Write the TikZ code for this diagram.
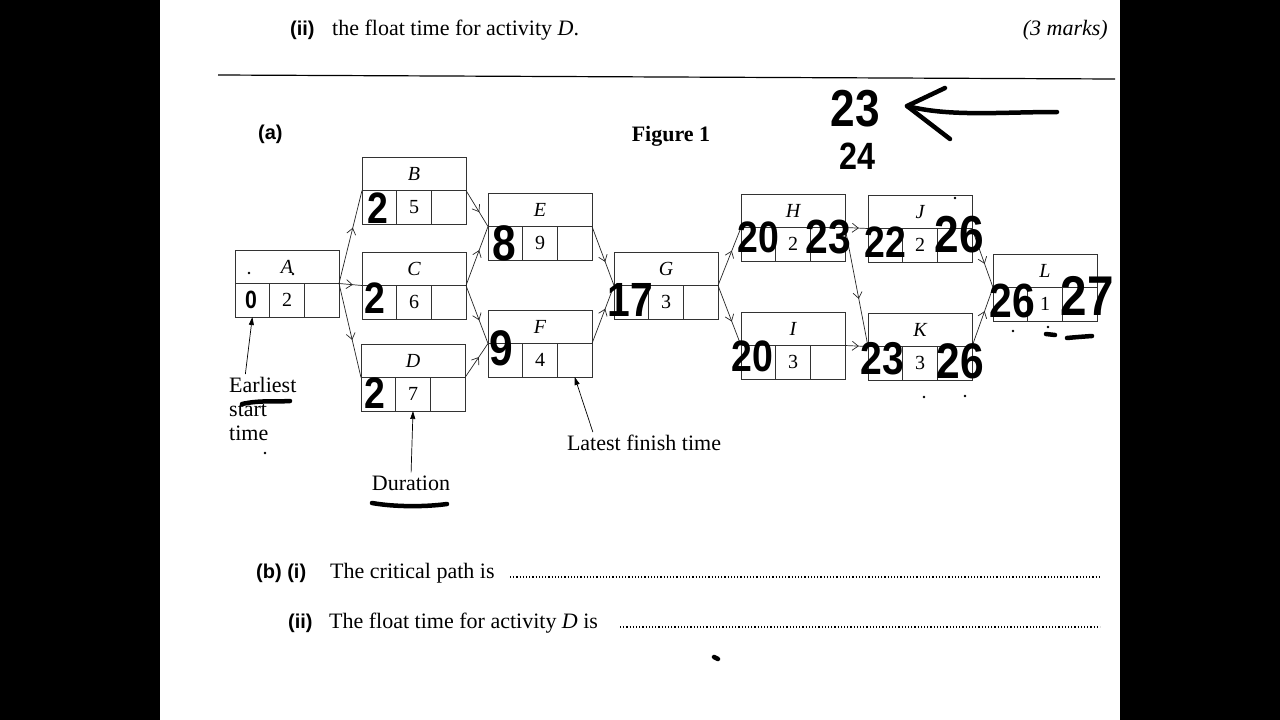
\documentclass[tikz,border=0pt]{standalone}
\usepackage{fontspec}
\setmainfont{Liberation Serif}
\newfontfamily\labelfont{Liberation Sans}
\newfontfamily\handfont{Liberation Sans}[FakeStretch=0.85]
\usetikzlibrary{arrows.meta, positioning, calc, decorations.markings}

% one activity box: name, x, y (top left), letter, duration
\newcommand\activity[5]{%
  \node[namecell, anchor=north west] (#1) at (#2,#3) {#4};
  \node[timecell, anchor=north west] (#1-es) at (#1.south west) {};
  \node[timecell, right=0pt of #1-es] (#1-du) {#5};
  \node[timecell, right=0pt of #1-du] (#1-lf) {};
}

\tikzset{
  namecell/.style={draw=black!80, line width=0.8pt, minimum width=104pt, minimum height=33.5pt, inner sep=0pt, outer sep=0pt, font=\fontsize{20}{20}\selectfont\itshape},
  timecell/.style={draw=black!80, line width=0.8pt, minimum width=34.67pt, minimum height=33.5pt, inner sep=0pt, outer sep=0pt, font=\fontsize{20}{20}\selectfont},
  link/.style={line width=0.7pt, black!85, decoration={markings, mark=at position 0.6 with {\arrow{Straight Barb[length=6pt,width=9pt]}}}, postaction={decorate}},
  pointer/.style={line width=0.7pt, shorten <=3pt, -{Triangle[length=8pt,width=5pt]}},
  hand/.style={inner sep=0pt, font=\handfont\bfseries\fontsize{44}{44}\selectfont},
  scrawl/.style={line width=4.5pt, line cap=round, line join=round},
  caption/.style={inner sep=0pt, font=\fontsize{22}{24}\selectfont},
  tag/.style={inner sep=0pt, font=\labelfont\bfseries\fontsize{20}{20}\selectfont},
  leader/.style={line width=1.4pt, dash pattern=on 1.2pt off 2pt},
}

\begin{document}
\begin{tikzpicture}[x=1pt, y=-1pt]

    % page
    \fill[black] (0,0) rectangle (1280,720);
    \fill[white] (160,0) rectangle (1120,720);

    % question header
    \node[tag, anchor=base west] (q2) at (290,35) {(ii)};
    \node[caption, anchor=base west] (q2text) at (332,35) {the float time for activity \textit{D}.};
    \node[caption, anchor=base east] (marks) at (1108,35) {\textit{(3 marks)}};
    \draw[line width=1.2pt] (218,75) -- (1115,79);

    \node[tag, anchor=base west] (parta) at (258,139) {(a)};
    \node[caption, anchor=base, font=\fontsize{22}{24}\selectfont\bfseries] (fig) at (671,141) {Figure 1};

    % activity boxes
    \activity{A}{235}{250}{A}{2}
    \activity{B}{362}{157}{B}{5}
    \activity{C}{362}{252}{C}{6}
    \activity{D}{361}{344}{D}{7}
    \activity{E}{488}{193}{E}{9}
    \activity{F}{488}{310}{F}{4}
    \activity{G}{614}{252}{G}{3}
    \activity{H}{741}{194}{H}{2}
    \activity{I}{741}{312}{I}{3}
    \activity{J}{868}{195}{J}{2}
    \activity{K}{868}{313}{K}{3}
    \activity{L}{993}{254}{L}{1}

    % precedence links
    \foreach \src/\dst in {A/B, A/C, A/D, B/E, C/E, C/F, D/F, E/G, F/G,
                           G/H, G/I, H/J, H/K, I/K, J/L, K/L}
        \draw[link] (\src-lf.north east) -- (\dst-es.north west);

    % key labels
    \node[caption, anchor=north west, align=left] (est) at (229,377) {Earliest\\start\\time};
    \node[caption] (dur) at (411,483) {Duration};
    \node[caption] (lft) at (644,443) {Latest finish time};
    \draw[pointer] ($(est.north west)+(16,0)$) -- (A-es.south);
    \draw[pointer] (dur.north) -- (D-du.south);
    \draw[pointer] ($(lft.north west)+(27,0)$) -- (F-lf.south);

    % handwritten times
    \node[hand, font=\handfont\bfseries\fontsize{25}{25}\selectfont] (esA) at (251,300) {0};
    \node[hand] (esB) at (378,208) {2};
    \node[hand] (esC) at (375,298) {2};
    \node[hand] (esD) at (375,393) {2};
    \node[hand, font=\handfont\bfseries\fontsize{50}{50}\selectfont] (esE) at (504,243) {8};
    \node[hand, font=\handfont\bfseries\fontsize{50}{50}\selectfont] (esF) at (501,348) {9};
    \node[hand, font=\handfont\bfseries\fontsize{48}{48}\selectfont] (esG) at (630,300) {17};
    \node[hand] (esH) at (758,237) {20};
    \node[hand, font=\handfont\bfseries\fontsize{48}{48}\selectfont] (lfH) at (828,237) {23};
    \node[hand] (esJ) at (885,242) {22};
    \node[hand, font=\handfont\bfseries\fontsize{52}{52}\selectfont] (lfJ) at (959,235) {26};
    \node[hand] (esI) at (752,356) {20};
    \node[hand, font=\handfont\bfseries\fontsize{46}{46}\selectfont] (esK) at (882,359) {23};
    \node[hand, font=\handfont\bfseries\fontsize{50}{50}\selectfont] (lfK) at (960,361) {26};
    \node[hand, font=\handfont\bfseries\fontsize{48}{48}\selectfont] (esL) at (1012,301) {26};
    \node[hand, font=\handfont\bfseries\fontsize{56}{56}\selectfont] (lfL) at (1087,296) {27};

    % note at top right
    \node[hand, font=\handfont\bfseries\fontsize{52}{52}\selectfont] (t23) at (855,109) {23};
    \node[hand, font=\handfont\bfseries\fontsize{38}{38}\selectfont] (t24) at (857,156) {24};
    \coordinate (tail) at (1057,112);
    \coordinate (tip) at (907,106);
    \draw[scrawl] (tail) .. controls (1000,112) and (950,117) .. (tip);
    \draw[scrawl] (945,88) -- (tip) -- (950,139);

    % underlines and marks
    \draw[scrawl] (242,404) .. controls (260,400) and (275,402) .. (290,401);
    \draw[scrawl] (372,503) .. controls (395,507) and (425,507) .. (447,504);
    \draw[scrawl] (1046,334) -- (1055,335);
    \draw[scrawl] (1067,338) .. controls (1078,337) .. (1092,336);
    \draw[scrawl] (714,657) -- (718,659);
    \foreach \p in {(249,273), (293,274), (265,453), (955,198), (1013,331), (1048,327), (924,397), (965,396)}
        \fill \p circle (1.4);

    % part (b)
    \node[tag, anchor=base west] (partb) at (256,578) {(b) (i)};
    \node[caption, anchor=base west] (cp) at (330,578) {The critical path is};
    \node[tag, anchor=base west] (partbii) at (288,628) {(ii)};
    \node[caption, anchor=base west] (ft) at (329,628) {The float time for activity \textit{D} is};
    \draw[leader] (510,577) -- (1100,577);
    \draw[leader] (620,627) -- (1100,627);

\end{tikzpicture}
\end{document}
